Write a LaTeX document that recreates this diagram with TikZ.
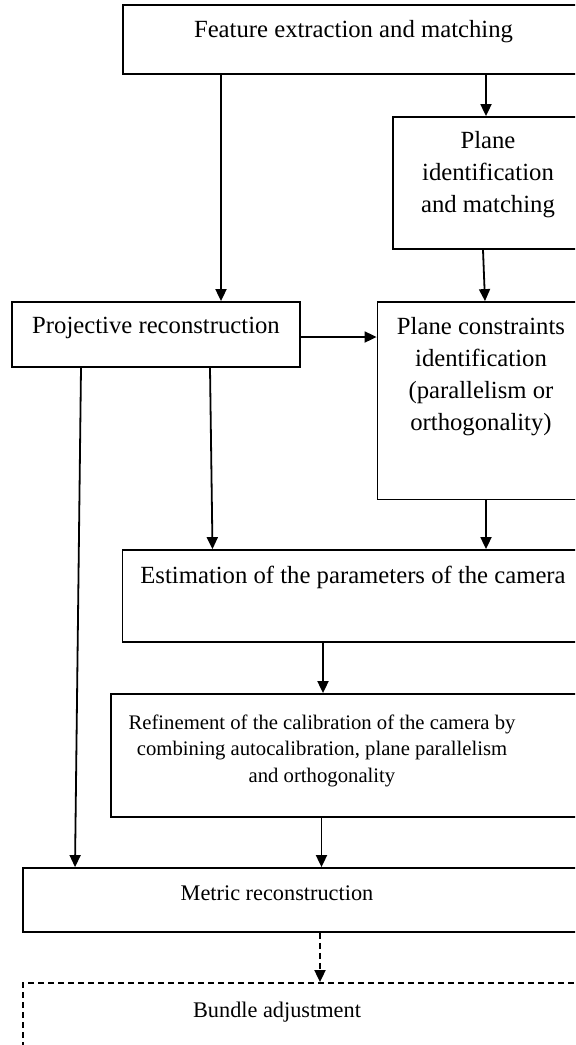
\documentclass[tikz,border=0pt]{standalone}
\usepackage{fontspec}
\setmainfont{Liberation Serif}
\usepackage{tikz}
\usetikzlibrary{positioning,fit,arrows.meta}

\begin{document}
\begin{tikzpicture}[x=0.5pt,y=-0.5pt,
    box/.style={draw, line width=0.9pt, inner sep=0pt},
    dashbox/.style={box, dash pattern=on 3pt off 2pt},
    txt/.style={inner sep=0pt, align=center, anchor=base, font=\fontsize{12.35}{16}\selectfont},
    smalltxt/.style={txt, font=\fontsize{11.15}{14}\selectfont},
    reftxt/.style={txt, font=\fontsize{10.35}{13.25}\selectfont},
    arr/.style={-{Triangle[length=6pt,width=5.5pt]}, line width=0.9pt}]
    \useasboundingbox (0,0) rectangle (575,1045);
    \clip (0,0) rectangle (575,1045);

    % boxes (right side runs off the page)
    \node[box, fit={(123,5) (600,74)}] (feat) {};
    \node[box, fit={(393,117) (600,249)}] (planeid) {};
    \node[box, fit={(12,302) (300,367)}] (proj) {};
    \node[box, fit={(377.5,302) (600,499.5)}] (planecon) {};
    \node[box, fit={(122.5,550) (600,642)}] (estim) {};
    \node[box, fit={(111,694) (600,817)}] (refine) {};
    \node[box, fit={(23,868) (600,932)}] (metric) {};
    \node[dashbox, fit={(23,983) (600,1100)}] (bundle) {};

    % labels (multi-line ones sit on their last line)
    \node[txt] (featT) at (353.5,37) {Feature extraction and matching};
    \node[txt] (planeidT) at (488,212) {Plane\\identification\\and matching};
    \node[txt] (projT) at (156,333) {Projective reconstruction};
    \node[txt] (planeconT) at (481,430) {Plane constraints\\identification\\(parallelism or\\orthogonality)};
    \node[txt] (estimT) at (353,583) {Estimation of the parameters of the camera};
    \node[reftxt] (refineT) at (322,782) {Refinement of the calibration of the camera by\\combining autocalibration, plane parallelism\\and orthogonality};
    \node[smalltxt] (metricT) at (277,900) {Metric reconstruction};
    \node[smalltxt] (bundleT) at (277,1017) {Bundle adjustment};

    % columns for the connectors
    \coordinate (c1) at (221,0);
    \coordinate (c2) at (486,0);
    \coordinate (c3a) at (483,0);
    \coordinate (c3b) at (485,0);
    \coordinate (c4a) at (210,0);
    \coordinate (c4b) at (212.5,0);
    \coordinate (c5a) at (81,0);
    \coordinate (c5b) at (75,0);
    \coordinate (c6) at (323,0);
    \coordinate (c7) at (321.5,0);
    \coordinate (c8) at (320,0);
    \coordinate (r1) at (0,337);

    \draw[arr] (feat.south -| c1) -- (proj.north -| c1);
    \draw[arr] (feat.south -| c2) -- (planeid.north -| c2);
    \draw[arr] (planeid.south -| c3a) -- (planecon.north -| c3b);
    \draw[arr] (proj.east |- r1) -- (planecon.west |- r1);
    \draw[arr] (proj.south -| c4a) -- (estim.north -| c4b);
    \draw[arr] (planecon.south -| c2) -- (estim.north -| c2);
    \draw[arr] (proj.south -| c5a) -- (metric.north -| c5b);
    \draw[arr] (estim.south -| c6) -- (refine.north -| c6);
    \draw[arr] (refine.south -| c7) -- (metric.north -| c7);
    \draw[arr, dash pattern=on 3pt off 2pt] (metric.south -| c8) -- (bundle.north -| c8);
\end{tikzpicture}
\end{document}
